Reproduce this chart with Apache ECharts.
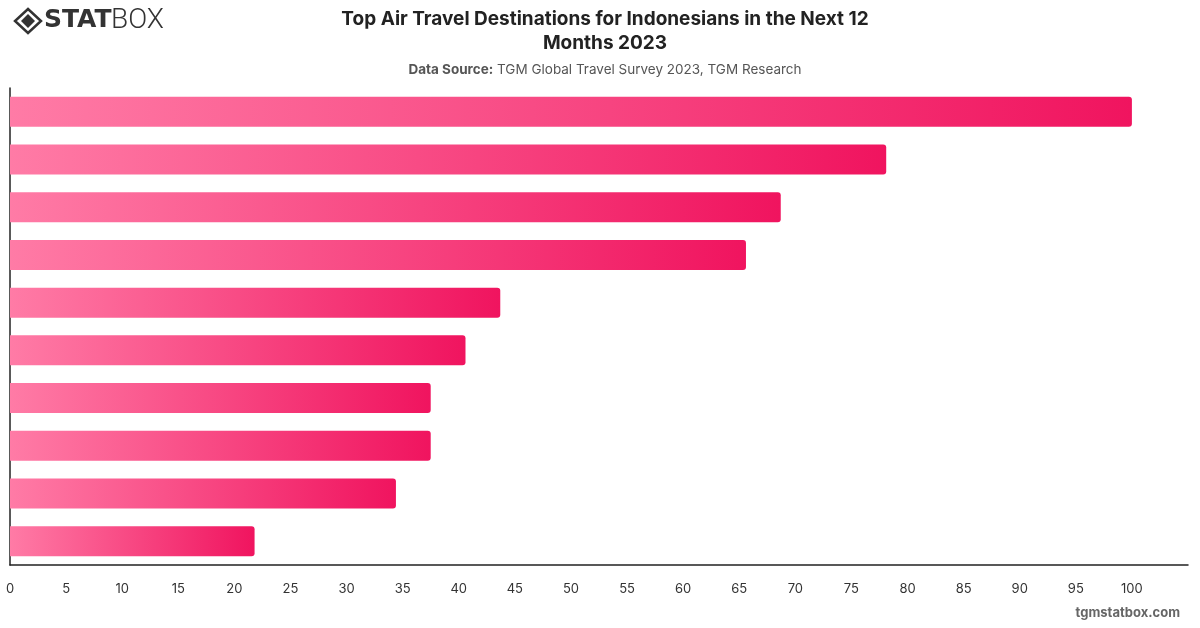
<!DOCTYPE html>
<html>
<head>
<meta charset="utf-8">
<script src="https://cdn.jsdelivr.net/npm/echarts@6/dist/echarts.min.js"></script>
<style>html,body{margin:0;padding:0;background:#fff}#c{width:1200px;height:628px}</style>
</head>
<body>
<div id="c"></div>
<script>
const categories = ["Japan","Singapore","South Korea","Malaysia","Thailand","Saudi Arabia","Australia","China","Turkey","United States"];
const values = [100, 78.1, 68.7, 65.6, 43.7, 40.6, 37.5, 37.5, 34.4, 21.8];
const xTicks = [0,5,10,15,20,25,30,35,40,45,50,55,60,65,70,75,80,85,90,95,100];

const chart = echarts.init(document.getElementById('c'));
const font = 'Inter, "Noto Sans", sans-serif';
chart.setOption({
  animation: false,
  backgroundColor: '#fff',
  title: [{
    text: 'Top Air Travel Destinations for Indonesians in the Next 12\nMonths 2023',
    left: 600, top: 2, textAlign: 'center',
    textStyle: {fontFamily: font, fontSize: 19, fontWeight: 'bold', color: '#222', lineHeight: 24}
  }, {
    text: '{b|Data Source:} {n|TGM Global Travel Survey 2023, TGM Research}',
    left: 600, top: 58, textAlign: 'center',
    textStyle: {fontFamily: font, fontSize: 13.5, fontWeight: 'normal', color: '#555',
      rich: {
        b: {fontFamily: font, fontSize: 13.5, fontWeight: 'bold', color: '#555'},
        n: {fontFamily: font, fontSize: 13.5, fontWeight: 'normal', color: '#555'}
      }}
  }],
  grid: {left: 10, right: 12, top: 88, bottom: 63, containLabel: false},
  xAxis: {
    type: 'value', min: 0, max: 105, interval: 5,
    axisLine: {show: true, lineStyle: {color: '#222', width: 1.5}},
    axisTick: {show: false},
    splitLine: {show: false},
    axisLabel: {
      showMaxLabel: false, margin: 18, color: '#333', fontFamily: font, fontSize: 13,
      formatter: v => xTicks.includes(v) ? String(v) : ''
    }
  },
  yAxis: {
    type: 'category', data: categories, inverse: true,
    axisLine: {show: true, lineStyle: {color: '#222', width: 1.5}},
    axisTick: {show: false},
    axisLabel: {show: false}
  },
  series: [{
    type: 'bar', data: values, barWidth: 30,
    itemStyle: {
      borderRadius: [0, 3, 3, 0],
      color: new echarts.graphic.LinearGradient(0, 0, 1, 0, [
        {offset: 0, color: '#ff7ba6'},
        {offset: 1, color: '#f0145f'}
      ])
    }
  }],
  graphic: [
    {type: 'polygon', shape: {points: [[28,9],[41,21],[28,33],[15,21]]}, style: {fill: 'none', stroke: '#333', lineWidth: 2.5}},
    {type: 'polygon', shape: {points: [[28,14],[35,21],[28,28],[21,21]]}, style: {fill: '#333'}},
    {type: 'text', left: 44, top: 8, style: {text: 'STAT', fontFamily: '"DejaVu Sans", sans-serif', fontWeight: 'bold', fontSize: 25, fill: '#333'}},
    {type: 'text', left: 111, top: 7, style: {text: 'BOX', fontFamily: 'Roboto, sans-serif', fontWeight: 300, fontSize: 28, fill: '#333'}},
    {type: 'text', right: 20, top: 607, style: {text: 'tgmstatbox.com', fontFamily: font, fontWeight: 'bold', fontSize: 13, fill: '#666'}}
  ]
});
</script>
</body>
</html>
